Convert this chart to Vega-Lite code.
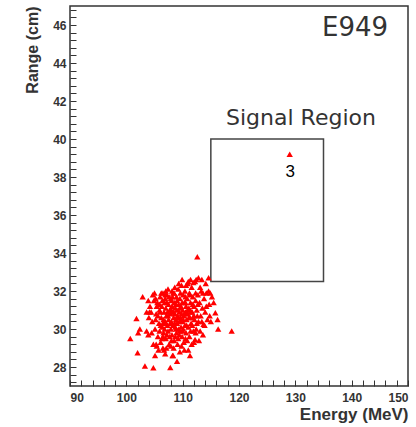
{
  "$schema": "https://vega.github.io/schema/vega-lite/v6.json",
  "autosize": "none",
  "width": 338,
  "height": 380,
  "padding": {"left": 70, "top": 6, "right": 8, "bottom": 41},
  "background": "white",
  "config": {
    "view": {"stroke": "#333333", "strokeWidth": 1.5},
    "axis": {"grid": false, "domain": false, "ticks": true, "tickWidth": 1, "tickOpacity": 1, "zindex": 1, "labelFont": "Liberation Sans", "labelFontWeight": "bold", "labelFontSize": 12, "labelColor": "#333333", "titleFont": "Liberation Sans", "titleFontWeight": "bold", "titleColor": "#333333", "tickColor": "#333333", "labelOverlap": false, "tickCount": 200}
  },
  "datasets": {
    "events": [
      {"energy": 104.2, "range": 31.2}, {"energy": 104.6, "range": 30.4}, {"energy": 104.9, "range": 31.5}, {"energy": 105.1, "range": 30.0}, {"energy": 105.3, "range": 30.8}, {"energy": 105.5, "range": 31.4}, {"energy": 105.6, "range": 29.6}, {"energy": 105.8, "range": 30.3}, {"energy": 105.9, "range": 31.0}, {"energy": 106.0, "range": 31.7},
      {"energy": 106.1, "range": 29.3}, {"energy": 106.2, "range": 30.6}, {"energy": 106.3, "range": 31.2}, {"energy": 106.4, "range": 30.1}, {"energy": 106.5, "range": 31.9}, {"energy": 106.6, "range": 29.8}, {"energy": 106.7, "range": 30.9}, {"energy": 106.8, "range": 31.4}, {"energy": 106.9, "range": 30.4}, {"energy": 107.0, "range": 29.5},
      {"energy": 107.0, "range": 31.1}, {"energy": 107.1, "range": 30.7}, {"energy": 107.2, "range": 31.8}, {"energy": 107.3, "range": 30.2}, {"energy": 107.4, "range": 29.9}, {"energy": 107.5, "range": 31.3}, {"energy": 107.5, "range": 30.5}, {"energy": 107.6, "range": 29.2}, {"energy": 107.7, "range": 31.0}, {"energy": 107.8, "range": 30.8},
      {"energy": 107.9, "range": 31.6}, {"energy": 107.9, "range": 30.0}, {"energy": 108.0, "range": 30.4}, {"energy": 108.1, "range": 29.7}, {"energy": 108.1, "range": 31.2}, {"energy": 108.2, "range": 30.9}, {"energy": 108.3, "range": 31.9}, {"energy": 108.3, "range": 30.2}, {"energy": 108.4, "range": 30.6}, {"energy": 108.5, "range": 29.4},
      {"energy": 108.5, "range": 31.4}, {"energy": 108.6, "range": 30.8}, {"energy": 108.7, "range": 30.1}, {"energy": 108.7, "range": 31.1}, {"energy": 108.8, "range": 30.5}, {"energy": 108.9, "range": 31.7}, {"energy": 108.9, "range": 29.8}, {"energy": 109.0, "range": 30.3}, {"energy": 109.0, "range": 31.0}, {"energy": 109.1, "range": 30.7},
      {"energy": 109.2, "range": 32.1}, {"energy": 109.2, "range": 29.5}, {"energy": 109.3, "range": 31.3}, {"energy": 109.4, "range": 30.4}, {"energy": 109.4, "range": 30.9}, {"energy": 109.5, "range": 31.6}, {"energy": 109.5, "range": 29.9}, {"energy": 109.6, "range": 30.6}, {"energy": 109.7, "range": 31.2}, {"energy": 109.7, "range": 30.1},
      {"energy": 109.8, "range": 32.3}, {"energy": 109.8, "range": 30.8}, {"energy": 109.9, "range": 29.6}, {"energy": 110.0, "range": 31.0}, {"energy": 110.0, "range": 30.4}, {"energy": 110.1, "range": 31.8}, {"energy": 110.2, "range": 30.7}, {"energy": 110.2, "range": 29.3}, {"energy": 110.3, "range": 31.4}, {"energy": 110.4, "range": 30.2},
      {"energy": 110.4, "range": 32.0}, {"energy": 110.5, "range": 30.9}, {"energy": 110.6, "range": 31.2}, {"energy": 110.6, "range": 29.8}, {"energy": 110.7, "range": 30.5}, {"energy": 110.8, "range": 31.6}, {"energy": 110.9, "range": 30.8}, {"energy": 110.9, "range": 32.4}, {"energy": 111.0, "range": 30.1}, {"energy": 111.1, "range": 31.1},
      {"energy": 111.2, "range": 29.6}, {"energy": 111.2, "range": 31.9}, {"energy": 111.3, "range": 30.6}, {"energy": 111.4, "range": 31.4}, {"energy": 111.5, "range": 30.3}, {"energy": 111.6, "range": 32.2}, {"energy": 111.7, "range": 30.9}, {"energy": 111.8, "range": 31.7}, {"energy": 111.9, "range": 29.9}, {"energy": 112.0, "range": 31.2},
      {"energy": 112.1, "range": 30.5}, {"energy": 112.2, "range": 32.5}, {"energy": 112.3, "range": 31.5}, {"energy": 112.4, "range": 30.0}, {"energy": 112.5, "range": 31.0}, {"energy": 112.7, "range": 31.8}, {"energy": 112.8, "range": 30.4}, {"energy": 113.0, "range": 31.4}, {"energy": 113.2, "range": 30.7}, {"energy": 113.3, "range": 32.0},
      {"energy": 113.5, "range": 31.1}, {"energy": 113.6, "range": 29.7}, {"energy": 113.8, "range": 31.6}, {"energy": 114.0, "range": 30.9}, {"energy": 114.2, "range": 31.9}, {"energy": 114.4, "range": 30.5}, {"energy": 114.7, "range": 31.3},
      {"energy": 105.0, "range": 31.9}, {"energy": 105.4, "range": 29.1}, {"energy": 106.0, "range": 30.9}, {"energy": 106.5, "range": 30.3}, {"energy": 106.9, "range": 31.6}, {"energy": 107.3, "range": 30.9}, {"energy": 107.7, "range": 29.6}, {"energy": 108.0, "range": 31.5}, {"energy": 108.4, "range": 29.0}, {"energy": 108.8, "range": 31.3},
      {"energy": 109.1, "range": 29.2}, {"energy": 109.6, "range": 31.9}, {"energy": 110.1, "range": 30.5}, {"energy": 110.5, "range": 31.7}, {"energy": 110.8, "range": 29.4}, {"energy": 111.3, "range": 31.0}, {"energy": 111.7, "range": 30.2}, {"energy": 112.0, "range": 29.3}, {"energy": 112.6, "range": 30.7}, {"energy": 113.1, "range": 29.9},
      {"energy": 106.3, "range": 29.5}, {"energy": 107.1, "range": 29.0}, {"energy": 108.6, "range": 32.2}, {"energy": 109.9, "range": 32.6}, {"energy": 111.0, "range": 32.5}, {"energy": 104.5, "range": 29.8}, {"energy": 105.2, "range": 30.5}, {"energy": 107.4, "range": 32.1}, {"energy": 103.6, "range": 30.9}, {"energy": 104.0, "range": 30.6},
      {"energy": 103.9, "range": 31.5}, {"energy": 104.8, "range": 29.2}, {"energy": 105.7, "range": 28.9}, {"energy": 112.9, "range": 29.4}, {"energy": 113.9, "range": 30.2}, {"energy": 110.3, "range": 28.9}, {"energy": 109.5, "range": 28.8}, {"energy": 106.7, "range": 28.9}, {"energy": 108.2, "range": 28.6},
      {"energy": 105.6, "range": 30.7}, {"energy": 105.9, "range": 31.3}, {"energy": 106.1, "range": 30.2}, {"energy": 106.4, "range": 31.5}, {"energy": 106.6, "range": 30.5}, {"energy": 106.8, "range": 30.0}, {"energy": 107.0, "range": 30.3}, {"energy": 107.2, "range": 31.4}, {"energy": 107.4, "range": 30.7}, {"energy": 107.6, "range": 31.7},
      {"energy": 107.8, "range": 30.3}, {"energy": 108.0, "range": 31.0}, {"energy": 108.2, "range": 31.7}, {"energy": 108.4, "range": 30.9}, {"energy": 108.6, "range": 30.3}, {"energy": 108.8, "range": 30.0}, {"energy": 109.0, "range": 31.5}, {"energy": 109.2, "range": 30.6}, {"energy": 109.3, "range": 30.0}, {"energy": 109.5, "range": 31.1},
      {"energy": 109.7, "range": 30.5}, {"energy": 109.9, "range": 31.4}, {"energy": 110.1, "range": 30.0}, {"energy": 110.3, "range": 30.8}, {"energy": 110.5, "range": 31.4}, {"energy": 110.7, "range": 30.2}, {"energy": 110.9, "range": 31.0}, {"energy": 111.1, "range": 30.6}, {"energy": 111.3, "range": 31.8}, {"energy": 111.5, "range": 30.9},
      {"energy": 111.8, "range": 31.3}, {"energy": 112.0, "range": 30.7}, {"energy": 112.3, "range": 31.9}, {"energy": 112.5, "range": 30.3}, {"energy": 112.7, "range": 31.3}, {"energy": 106.2, "range": 31.9}, {"energy": 107.0, "range": 32.0}, {"energy": 108.1, "range": 32.0}, {"energy": 109.3, "range": 32.4}, {"energy": 110.6, "range": 32.3},
      {"energy": 111.4, "range": 32.6}, {"energy": 112.4, "range": 32.6}, {"energy": 105.4, "range": 31.2}, {"energy": 105.9, "range": 29.9}, {"energy": 106.5, "range": 29.6}, {"energy": 107.2, "range": 29.7}, {"energy": 108.0, "range": 29.4}, {"energy": 108.7, "range": 29.6}, {"energy": 109.4, "range": 29.7}, {"energy": 110.0, "range": 29.9},
      {"energy": 110.5, "range": 29.5}, {"energy": 111.4, "range": 29.9}, {"energy": 111.8, "range": 30.6}, {"energy": 112.3, "range": 29.8}, {"energy": 113.4, "range": 30.4}, {"energy": 113.6, "range": 31.9}, {"energy": 114.2, "range": 31.2}, {"energy": 114.8, "range": 30.7}, {"energy": 104.4, "range": 30.9}, {"energy": 104.7, "range": 31.8},
      {"energy": 105.2, "range": 31.6}, {"energy": 107.9, "range": 29.1}, {"energy": 109.8, "range": 29.1}, {"energy": 111.6, "range": 29.2}, {"energy": 113.4, "range": 32.6}, {"energy": 114.1, "range": 32.4}, {"energy": 115.2, "range": 31.7}, {"energy": 114.9, "range": 31.9},
      {"energy": 112.6, "range": 33.8}, {"energy": 112.8, "range": 32.7}, {"energy": 114.6, "range": 32.7}, {"energy": 102.9, "range": 31.7}, {"energy": 106.9, "range": 31.8}, {"energy": 108.5, "range": 31.9},
      {"energy": 101.8, "range": 30.55}, {"energy": 100.7, "range": 29.5}, {"energy": 102.1, "range": 29.8}, {"energy": 103.6, "range": 29.9}, {"energy": 102.0, "range": 28.75}, {"energy": 103.3, "range": 28.05}, {"energy": 104.8, "range": 27.96}, {"energy": 105.1, "range": 28.6}, {"energy": 106.9, "range": 28.7}, {"energy": 107.8, "range": 27.97},
      {"energy": 108.3, "range": 28.6}, {"energy": 102.4, "range": 30.0}, {"energy": 103.9, "range": 29.7}, {"energy": 105.3, "range": 29.2}, {"energy": 106.5, "range": 29.0}, {"energy": 104.1, "range": 30.9},
      {"energy": 118.7, "range": 29.9}, {"energy": 116.3, "range": 30.0}, {"energy": 116.2, "range": 30.5}, {"energy": 115.0, "range": 30.4}, {"energy": 109.0, "range": 28.3}, {"energy": 111.3, "range": 28.6}, {"energy": 111.0, "range": 28.9}, {"energy": 112.2, "range": 29.45}, {"energy": 113.7, "range": 30.25}, {"energy": 115.8, "range": 30.85},
      {"energy": 115.5, "range": 31.4}, {"energy": 114.6, "range": 32.0}, {"energy": 113.1, "range": 32.2}, {"energy": 111.9, "range": 32.45},
      {"energy": 129.0, "range": 39.2}
    ],
    "box": [{"e1": 115, "e2": 135, "r1": 32.5, "r2": 40}],
    "texts": [
      {"energy": 131.0, "range": 41.1, "label": "Signal Region", "kind": "region"},
      {"energy": 140.6, "range": 45.85, "label": "E949", "kind": "exp"}
    ],
    "count": [{"energy": 129.1, "range": 38.25, "label": "3"}]
  },
  "layer": [
    {
      "data": {"name": "box"},
      "mark": {"type": "rect", "fill": null, "stroke": "#444444", "strokeWidth": 1.5},
      "encoding": {
        "x": {"field": "e1", "type": "quantitative", "scale": {"domain": [90, 150], "nice": false, "zero": false},
          "axis": {"orient": "bottom", "tickCount": 200, "domain": false, "values": [90, 92, 94, 96, 98, 100, 102, 104, 106, 108, 110, 112, 114, 116, 118, 120, 122, 124, 126, 128, 130, 132, 134, 136, 138, 140, 142, 144, 146, 148, 150],
            "labelExpr": "datum.value % 10 === 0 ? format(datum.value, 'd') : ''",
            "tickSize": -6,
            "labelPadding": 12, "title": "Energy (MeV)", "titleFontSize": 17, "titleAnchor": "end", "titlePadding": 3}},
        "x2": {"field": "e2"},
        "y": {"field": "r1", "type": "quantitative", "scale": {"domain": [27, 47], "nice": false, "zero": false},
          "axis": {"orient": "left", "tickCount": 200, "domain": false, "values": [27.2, 27.6, 28, 28.4, 28.8, 29.2, 29.6, 30, 30.4, 30.8, 31.2, 31.6, 32, 32.4, 32.8, 33.2, 33.6, 34, 34.4, 34.8, 35.2, 35.6, 36, 36.4, 36.8, 37.2, 37.6, 38, 38.4, 38.8, 39.2, 39.6, 40, 40.4, 40.8, 41.2, 41.6, 42, 42.4, 42.8, 43.2, 43.6, 44, 44.4, 44.8, 45.2, 45.6, 46, 46.4, 46.8],
            "labelExpr": "abs(datum.value / 2 - round(datum.value / 2)) < 0.01 ? format(datum.value, 'd') : ''",
            "tickSize": -6,
            "labelPadding": 10, "title": "Range (cm)", "titleFontSize": 16, "titleAnchor": "end", "titlePadding": 12}},
        "y2": {"field": "r2"}
      }
    },
    {
      "data": {"name": "events"},
      "mark": {"type": "point", "shape": "triangle-up", "filled": true, "color": "#ff0000", "size": 40, "opacity": 1},
      "encoding": {
        "x": {"field": "energy", "type": "quantitative"},
        "y": {"field": "range", "type": "quantitative"}
      }
    },
    {
      "data": {"name": "texts"},
      "mark": {"type": "text", "font": "DejaVu Sans", "color": "#333333"},
      "encoding": {
        "x": {"field": "energy", "type": "quantitative"},
        "y": {"field": "range", "type": "quantitative"},
        "text": {"field": "label"},
        "size": {"field": "kind", "type": "nominal", "scale": {"domain": ["region", "exp"], "range": [22, 26]}, "legend": null}
      }
    },
    {
      "data": {"name": "count"},
      "mark": {"type": "text", "font": "Liberation Sans", "fontSize": 17, "color": "#000000"},
      "encoding": {
        "x": {"field": "energy", "type": "quantitative"},
        "y": {"field": "range", "type": "quantitative"},
        "text": {"field": "label"}
      }
    }
  ]
}
